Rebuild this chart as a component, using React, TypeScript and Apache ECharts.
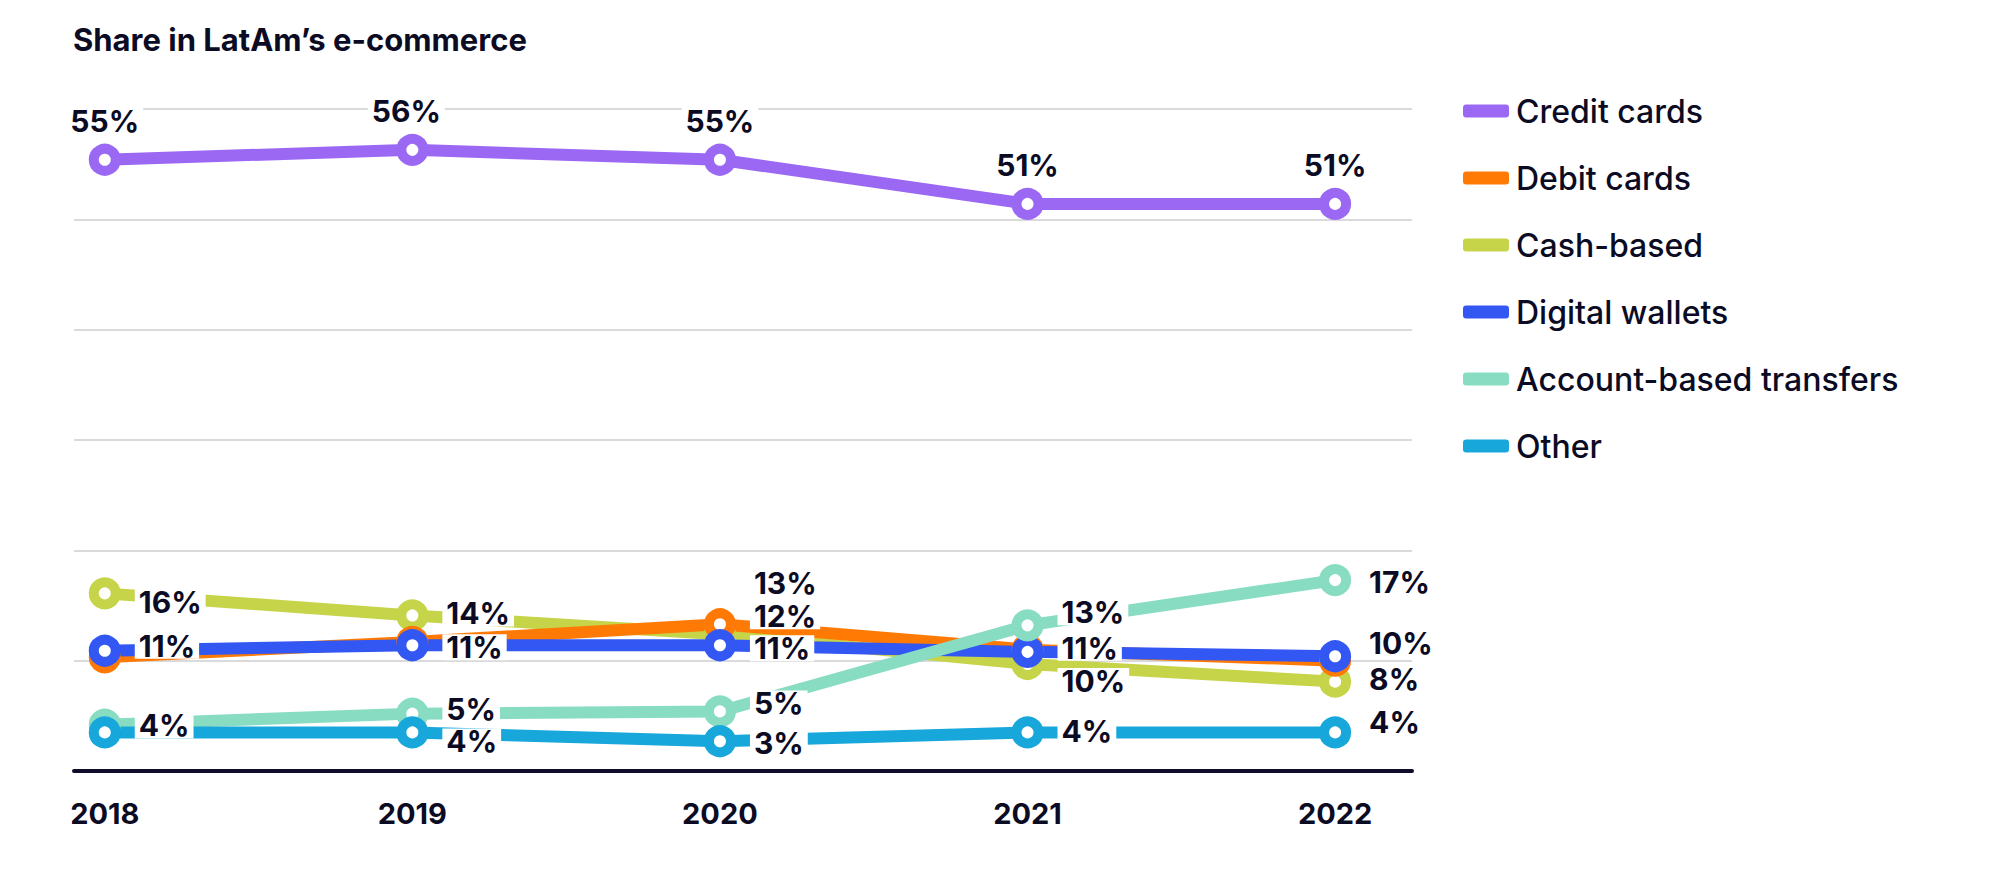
import React, { useEffect, useRef } from "react";
import * as echarts from "echarts";

const years = [2018, 2019, 2020, 2021, 2022];
const seriesNames = ["Credit cards", "Debit cards", "Cash-based", "Digital wallets", "Account-based transfers", "Other"];
const creditCards = [55.4, 56.3, 55.4, 51.4, 51.4];
const debitCards = [10.3, 11.7, 13.3, 11.0, 10.0];
const cashBased = [16.1, 14.1, 12.4, 9.7, 8.1];
const digitalWallets = [10.9, 11.4, 11.4, 10.8, 10.4];
const accountTransfers = [4.2, 5.2, 5.4, 13.2, 17.3];
const other = [3.5, 3.5, 2.7, 3.5, 3.5];
const yTicks = [0, 10, 20, 30, 40, 50, 60];

const colors: Record<string, string> = {
  "Credit cards": "#9b68f4",
  "Debit cards": "#ff7a05",
  "Cash-based": "#c6d449",
  "Digital wallets": "#3257f3",
  "Account-based transfers": "#88dcc2",
  Other: "#17a7da",
};

// label placement per point: [position, dx, dy] or null (hidden)
type LP = [string, number, number] | null;
const labelLayout: Record<string, LP[]> = {
  "Credit cards": [["top", 0, 0], ["top", -6, 0], ["top", 0, 0], ["top", 0, 0], ["top", 0, 0]],
  "Debit cards": [null, null, ["right", 0, -41], null, null],
  "Cash-based": [["right", 0, 9], ["right", 0, -2], ["right", 0, -18], ["right", 0, 17], ["right", 0, -3]],
  "Digital wallets": [["right", 0, -5], ["right", 0, 2], ["right", 0, 3], ["right", 0, -4], ["right", 0, -13]],
  "Account-based transfers": [null, ["right", 0, -5], ["right", 0, -8], ["right", 0, -13], ["right", 0, 2]],
  Other: [["right", 0, -7], ["right", 0, 9], ["right", 0, 2], ["right", 0, -1], ["right", 0, -10]],
};

const valuesByName: Record<string, number[]> = {
  "Credit cards": creditCards,
  "Debit cards": debitCards,
  "Cash-based": cashBased,
  "Digital wallets": digitalWallets,
  "Account-based transfers": accountTransfers,
  Other: other,
};

const drawOrder = ["Credit cards", "Cash-based", "Debit cards", "Digital wallets", "Account-based transfers", "Other"];

const FONT = "Inter, Roboto, sans-serif";
const TEXT = "#0b0b24";

export default function App() {
  const ref = useRef<HTMLDivElement>(null);
  useEffect(() => {
    if (!ref.current) return;
    const chart = echarts.init(ref.current, null, { renderer: "svg" });
    const series = drawOrder.map((name) => {
      const vals = valuesByName[name];
      const layout = labelLayout[name];
      return {
        name,
        type: "line",
        symbol: "circle",
        symbolSize: 22,
        lineStyle: { width: 12, color: colors[name], cap: "round", join: "round" },
        itemStyle: { color: "#ffffff", borderWidth: 10, borderColor: colors[name] },
        emphasis: { disabled: true },
        data: years.map((y, i) => {
          const lp = layout[i];
          return {
            value: [y, vals[i]],
            label: lp
              ? {
                  show: true,
                  position: lp[0],
                  distance: lp[0] === "top" ? 10 : 14,
                  offset: [lp[1], lp[2]],
                }
              : { show: false },
          };
        }),
        label: {
          show: true,
          formatter: (p: any) => Math.round(p.value[1]) + "%",
          fontFamily: FONT,
          fontSize: 30,
          fontWeight: 700,
          color: TEXT,
          backgroundColor: "#ffffff",
          padding: [1, 4],
          lineHeight: 24,
        },
      };
    });
    chart.setOption({
      animation: false,
      backgroundColor: "#ffffff",
      title: {
        text: "Share in LatAm\u2019s e-commerce",
        left: 68,
        top: 19,
        textStyle: { fontFamily: FONT, fontSize: 31, fontWeight: 700, color: TEXT },
      },
      legend: {
        orient: "vertical",
        left: 1458,
        top: 90,
        itemWidth: 46,
        itemHeight: 13,
        itemGap: 35,
        icon: "roundRect",
        data: seriesNames.map((n) => ({
          name: n,
          itemStyle: { color: colors[n], borderWidth: 0 },
        })),
        textStyle: {
          fontFamily: FONT,
          fontSize: 32,
          fontWeight: 500,
          color: TEXT,
          lineHeight: 30,
          padding: [0, 0, 0, 2],
        },
        selectedMode: false,
      },
      grid: { left: 74, top: 109, width: 1338, height: 662, containLabel: false },
      xAxis: {
        type: "value",
        min: 2017.9,
        max: 2022.25,
        splitLine: { show: false },
        axisTick: { show: false },
        axisLine: { show: true, lineStyle: { color: "#0d0d2b", width: 4 } },
        axisLabel: {
          customValues: years,
          formatter: (v: number) => String(v),
          fontFamily: FONT,
          fontSize: 29,
          fontWeight: 700,
          color: TEXT,
          margin: 28,
        },
      },
      yAxis: {
        type: "value",
        min: yTicks[0],
        max: yTicks[yTicks.length - 1],
        interval: 10,
        axisLabel: { show: false },
        axisLine: { show: false },
        axisTick: { show: false },
        splitLine: { show: true, lineStyle: { color: "#dadadc", width: 2 } },
      },
      series,
    });
    return () => chart.dispose();
  }, []);
  return (
    <div
      ref={ref}
      style={{ position: "fixed", left: 0, top: 0, width: 2000, height: 888, background: "#fff" }}
    />
  );
}
